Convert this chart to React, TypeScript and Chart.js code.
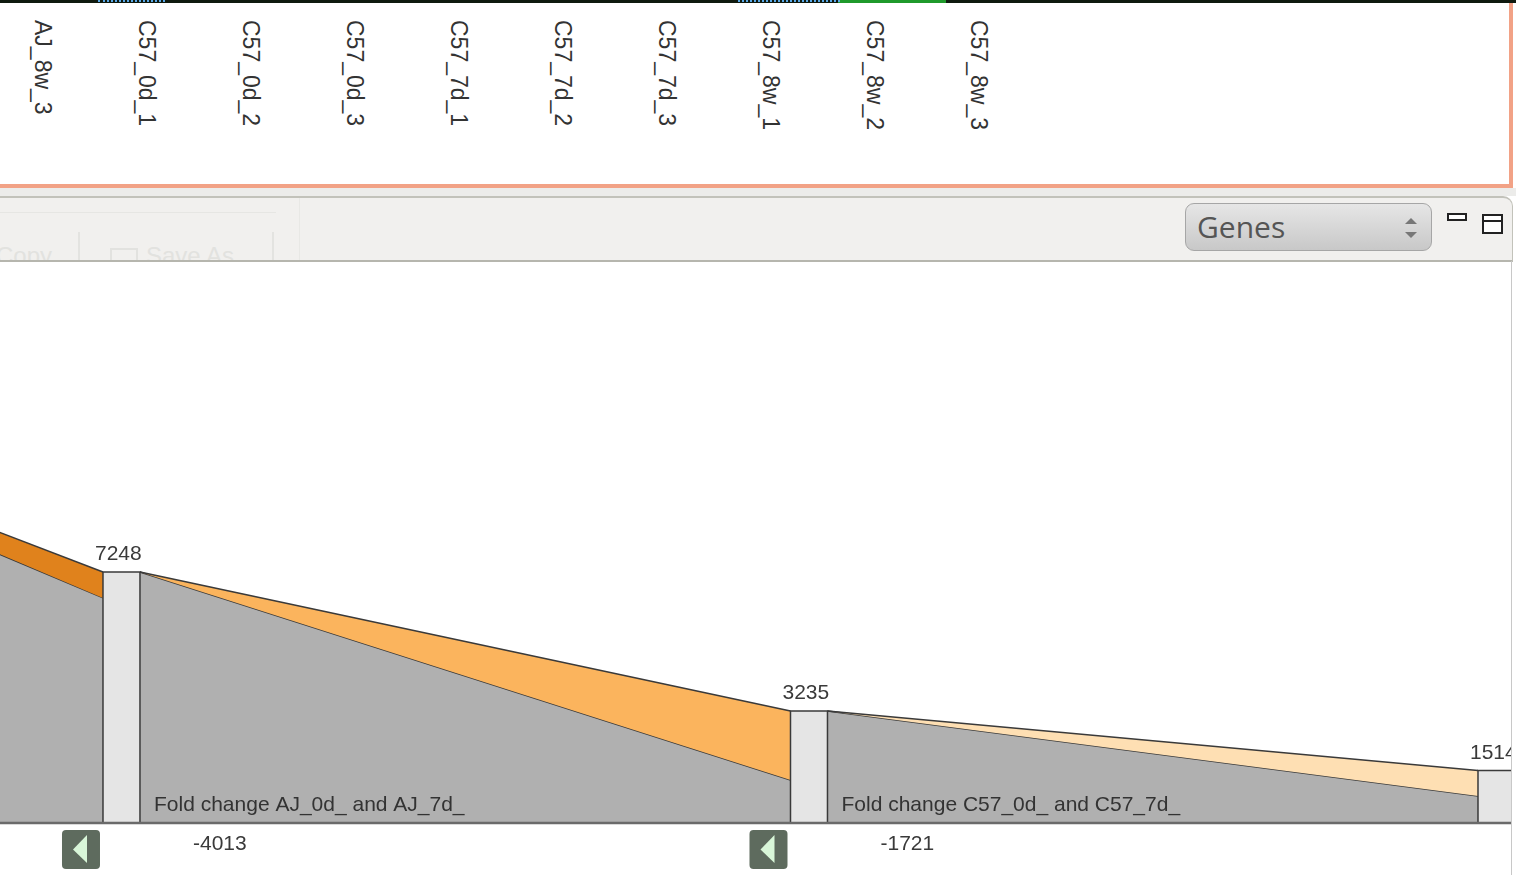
import React, { useEffect, useRef } from "react";
import { Chart, registerables } from "chart.js";

Chart.register(...registerables);

// ---------- data ----------
const COLUMN_LABELS = [
  "AJ_8w_3",
  "C57_0d_1",
  "C57_0d_2",
  "C57_0d_3",
  "C57_7d_1",
  "C57_7d_2",
  "C57_7d_3",
  "C57_8w_1",
  "C57_8w_2",
  "C57_8w_3",
];

// genes left after each filtering stage (stage 0 is scrolled off to the left)
const STAGE_VALUES = [14450, 7248, 3235, 1514];
// value of the grey band at the end of each filter segment
const RETAINED_VALUES = [6500, 1240, 780];
const FILTER_LABELS = ["", "Fold change AJ_0d_ and AJ_7d_", "Fold change C57_0d_ and C57_7d_"];
const FILTER_COLORS = ["#E0821C", "#FBB45D", "#FEDFB3"];

const Y_MAX = 16200;
const X_MIN = 0.8233;
const X_MAX = 3.0211;
const BAR_HALF = 0.0269;

const FONT = "'Liberation Sans', Arial, sans-serif";

const labelPlugin = {
  id: "funnelLabels",
  afterDatasetsDraw(chart: any) {
    const { ctx, chartArea } = chart;
    const x = chart.scales.x;
    const y = chart.scales.y;
    const base = y.getPixelForValue(0);
    ctx.save();
    // baseline
    ctx.strokeStyle = "#6a6a6a";
    ctx.lineWidth = 2.5;
    ctx.beginPath();
    ctx.moveTo(chartArea.left, base);
    ctx.lineTo(chartArea.right, base);
    ctx.stroke();

    ctx.font = `21px ${FONT}`;
    ctx.textBaseline = "alphabetic";
    ctx.textAlign = "left";
    // bar value labels
    STAGE_VALUES.forEach((v, k) => {
      const left = x.getPixelForValue(k - BAR_HALF);
      const top = y.getPixelForValue(v);
      ctx.fillStyle = "#3a3a3a";
      ctx.fillText(String(v), left - 8, top - 12);
    });
    // segment labels, differences and buttons
    FILTER_LABELS.forEach((lab, k) => {
      const right = x.getPixelForValue(k + BAR_HALF);
      const left = x.getPixelForValue(k - BAR_HALF);
      ctx.fillStyle = "#333";
      if (lab) ctx.fillText(lab, right + 14, base - 12);
      const diff = STAGE_VALUES[k + 1] - STAGE_VALUES[k];
      ctx.fillStyle = "#3a3a3a";
      ctx.fillText(String(diff), right + 53, base + 27);
      // back button
      const bx = left - 41;
      const by = base + 7;
      ctx.fillStyle = "#5E6B5E";
      ctx.beginPath();
      (ctx as any).roundRect(bx, by, 38, 39, 4);
      ctx.fill();
      ctx.fillStyle = "#D8F6D8";
      ctx.beginPath();
      ctx.moveTo(bx + 11, by + 19.5);
      ctx.lineTo(bx + 25, by + 5);
      ctx.lineTo(bx + 25, by + 33);
      ctx.closePath();
      ctx.fill();
    });
    ctx.restore();
  },
};

function FunnelChart() {
  const ref = useRef<HTMLCanvasElement | null>(null);
  useEffect(() => {
    if (!ref.current) return;
    const datasets: any[] = [];
    const common = {
      pointRadius: 0,
      pointHoverRadius: 0,
      tension: 0,
      borderColor: "#3a3a3a",
      borderWidth: 1.5,
    };
    // bars (first -> drawn on top)
    STAGE_VALUES.forEach((v, k) => {
      datasets.push({
        ...common,
        data: [
          { x: k - BAR_HALF, y: 0 },
          { x: k - BAR_HALF, y: v },
          { x: k + BAR_HALF, y: v },
          { x: k + BAR_HALF, y: 0 },
        ],
        backgroundColor: "#E5E5E5",
        fill: "origin",
      });
    });
    // filter segments
    RETAINED_VALUES.forEach((g, k) => {
      const x0 = k + BAR_HALF;
      const x1 = k + 1 - BAR_HALF;
      const grayIndex = datasets.length + 1;
      datasets.push({
        ...common,
        data: [
          { x: x0, y: STAGE_VALUES[k] },
          { x: x1, y: STAGE_VALUES[k + 1] },
        ],
        backgroundColor: FILTER_COLORS[k],
        fill: grayIndex,
      });
      datasets.push({
        ...common,
        data: [
          { x: x0, y: STAGE_VALUES[k] },
          { x: x1, y: g },
        ],
        backgroundColor: "#B0B0B0",
        fill: "origin",
      });
    });

    const chart = new Chart(ref.current, {
      type: "line",
      data: { datasets },
      options: {
        animation: false,
        responsive: false,
        maintainAspectRatio: false,
        layout: { padding: { left: 0, right: 0, top: 0, bottom: 52 } },
        plugins: { legend: { display: false }, tooltip: { enabled: false } },
        events: [],
        scales: {
          x: { type: "linear", min: X_MIN, max: X_MAX, display: false },
          y: { type: "linear", min: 0, max: Y_MAX, display: false },
        },
      },
      plugins: [labelPlugin],
    });
    return () => chart.destroy();
  }, []);
  return <canvas ref={ref} width={1511} height={613} style={{ display: "block" }} />;
}

const abs = (s: React.CSSProperties): React.CSSProperties => ({ position: "absolute", ...s });

export default function App() {
  return (
    <div
      style={{
        position: "fixed",
        left: 0,
        top: 0,
        width: 1516,
        height: 875,
        overflow: "hidden",
        background: "#fff",
        fontFamily: FONT,
      }}
    >
      {/* top strip */}
      <div style={abs({ left: 0, top: 0, width: 1516, height: 3, background: "#0f1a0f" })} />
      <div style={abs({ left: 838, top: 0, width: 108, height: 3, background: "#1f9a2b" })} />
      <div style={abs({ left: 98, top: 0, width: 67, height: 0, borderTop: "2px dotted #5aa8e8" })} />
      <div style={abs({ left: 738, top: 0, width: 102, height: 0, borderTop: "2px dotted #5aa8e8" })} />

      {/* header panel with column names */}
      <div style={abs({ left: 0, top: 3, width: 1509, height: 181, background: "#fff" })} />
      {COLUMN_LABELS.map((t, i) => (
        <div
          key={t}
          style={abs({
            left: 43 + 104 * i - 12,
            top: 20,
            writingMode: "vertical-rl",
            fontSize: 23,
            lineHeight: "24px",
            color: "#333",
            whiteSpace: "nowrap",
          })}
        >
          {t}
        </div>
      ))}
      <div style={abs({ left: 1509, top: 3, width: 4, height: 185, background: "#F2A286" })} />
      <div style={abs({ left: 0, top: 184, width: 1513, height: 4, background: "#F2A286" })} />

      {/* gap + toolbar */}
      <div style={abs({ left: 0, top: 188, width: 1516, height: 8, background: "#ECECEA" })} />
      <div
        style={abs({
          left: 0,
          top: 196,
          width: 1512,
          height: 62,
          background: "#F1F0EE",
          borderTop: "2px solid #C2C2BA",
          borderRight: "1px solid #C2C2BA",
          borderBottom: "2px solid #B6B6AE",
          borderTopRightRadius: 10,
          overflow: "hidden",
        })}
      >
        <div style={abs({ left: 0, top: 14, width: 276, height: 1, background: "#E6E6E3" })} />
        <div style={abs({ left: 299, top: 0, width: 1, height: 62, background: "#E8E8E5" })} />
        <div style={abs({ left: 78, top: 34, width: 2, height: 30, background: "#E3E3E0" })} />
        <div style={abs({ left: 272, top: 34, width: 2, height: 30, background: "#E3E3E0" })} />
        <div style={abs({ left: -4, top: 44, fontSize: 24, color: "#E2E2DF", whiteSpace: "nowrap" })}>Copy</div>
        <div style={abs({ left: 110, top: 50, width: 24, height: 18, border: "2px solid #E2E2DF" })} />
        <div style={abs({ left: 146, top: 44, fontSize: 24, color: "#E2E2DF", whiteSpace: "nowrap" })}>Save As...</div>

        {/* Genes dropdown */}
        <div
          style={abs({
            left: 1185,
            top: 5,
            width: 247,
            height: 48,
            boxSizing: "border-box",
            border: "1px solid #A6A6A6",
            borderRadius: 9,
            background: "linear-gradient(#E6E6E6, #C8C8C8)",
          })}
        >
          <div
            style={abs({
              left: 11,
              top: 0,
              fontFamily: "'Open Sans', 'DejaVu Sans', sans-serif",
              fontSize: 30,
              lineHeight: "46px",
              color: "#555",
            })}
          >
            Genes
          </div>
          <div
            style={abs({
              left: 219,
              top: 14,
              width: 0,
              height: 0,
              borderLeft: "6px solid transparent",
              borderRight: "6px solid transparent",
              borderBottom: "6px solid #777",
            })}
          />
          <div
            style={abs({
              left: 219,
              top: 28,
              width: 0,
              height: 0,
              borderLeft: "6px solid transparent",
              borderRight: "6px solid transparent",
              borderTop: "6px solid #777",
            })}
          />
        </div>
        {/* minimize / maximize */}
        <div
          style={abs({
            left: 1447,
            top: 15,
            width: 20,
            height: 8,
            boxSizing: "border-box",
            border: "2px solid #222",
            background: "#fff",
          })}
        />
        <div
          style={abs({
            left: 1482,
            top: 16,
            width: 21,
            height: 20,
            boxSizing: "border-box",
            border: "2px solid #222",
            background: "#fff",
          })}
        >
          <div style={abs({ left: 0, top: 4, width: 17, height: 2, background: "#222" })} />
        </div>
      </div>

      {/* chart panel */}
      <div style={abs({ left: 1511, top: 261, width: 1, height: 614, background: "#C8C8C8" })} />
      <div style={abs({ left: 0, top: 262, width: 1511, height: 613 })}>
        <FunnelChart />
      </div>
    </div>
  );
}
